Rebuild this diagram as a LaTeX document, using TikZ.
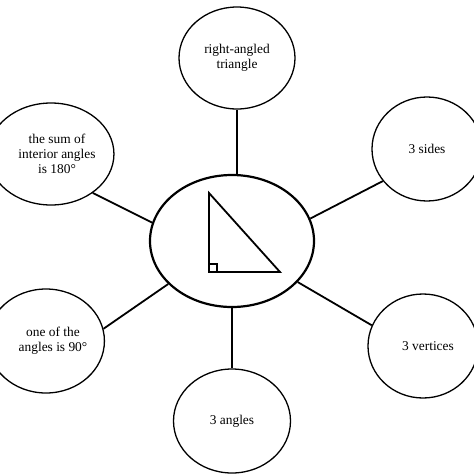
\documentclass[tikz,border=0pt]{standalone}
\usepackage{fontspec}
\setmainfont{Liberation Serif}
\usetikzlibrary{shapes.geometric}
\begin{document}
\begin{tikzpicture}[x=1pt, y=-1pt, thick,
		bubble/.style={draw, ellipse, line width=1.3pt, inner sep=0pt,
			minimum width=110pt, minimum height=104pt, align=center,
			font=\fontsize{13.4}{15}\selectfont},
		hub/.style={draw, ellipse, line width=2.2pt, inner sep=0pt,
			minimum width=164pt, minimum height=132pt},
		link/.style={line width=1.8pt}]
	\useasboundingbox (0,0) rectangle (474,474);
	\clip (0,0) rectangle (474,474);
	
	\node[hub] (hub) at (232,241) {};
	
	\node[bubble, minimum width=116pt, minimum height=102pt] (kind) at (237,58) {right-angled\\triangle};
	\node[bubble] (sides) at (427,149) {3 sides};
	\node[bubble] (vert) at (423,346) {\hspace*{10pt}3 vertices};
	\node[bubble, minimum width=117pt] (ang) at (232,421) {3 angles};
	\node[bubble, minimum height=102pt] (sum) at (51,154) {\hspace*{12pt}the sum of\\\hspace*{12pt}interior angles\\\hspace*{12pt}is 180°};
	\node[bubble] (right) at (46,341) {\hspace*{14pt}one of the\\\hspace*{14pt}angles is 90°};
	
	\draw[link] (hub.north -| kind.south) -- (kind.south);
	\draw[link] (hub.16) -- (sides.216);
	\draw[link] (hub.328) -- (vert.158);
	\draw[link] (hub.south -| ang.north) -- (ang.north);
	\draw[link] (hub.167) -- (sum.317);
	\draw[link] (hub.214) -- (right.12);
	
	% triangle in the hub
	\draw[line width=1.8pt, line join=miter] (209,193) -- (209,272) -- (280,272) -- cycle;
	\draw[line width=1.2pt] (209,264) -- (217,264) -- (217,272);
\end{tikzpicture}
\end{document}
